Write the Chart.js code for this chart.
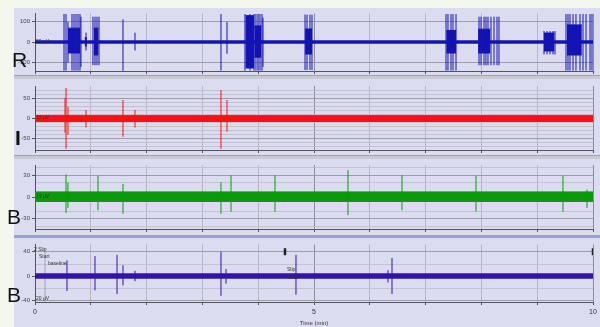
<!DOCTYPE html>
<html>
<head>
<meta charset="utf-8">
<script src="https://cdn.jsdelivr.net/npm/chart.js@4.4.0/dist/chart.umd.min.js"></script>
<style>
  html, body { margin: 0; padding: 0; background: #f3f7ee; }
  #page { position: relative; width: 600px; height: 327px; overflow: hidden; background: #f3f7ee; }
  #sheet { position: absolute; left: 14px; top: 8px; width: 586px; height: 319px; background: #dcdcf0; }
  canvas { position: absolute; left: 0; }
  .sep { position: absolute; left: 14px; width: 586px; }
  .side { position: absolute; font-family: "Liberation Sans", Arial, sans-serif; font-size: 21px; line-height: 21px; color: #111; }
  .note { position: absolute; font-family: "Liberation Sans", Arial, sans-serif; font-size: 5px; line-height: 6px; color: #333; white-space: nowrap; }
</style>
</head>
<body>
<div id="page">
  <div id="sheet"></div>
  <div class="sep" style="top:75px;height:1px;background:#a2a2b2"></div>
  <div class="sep" style="top:76px;height:3px;background:#c9c9d4"></div>
  <div class="sep" style="top:155px;height:1px;background:#a2a2b2"></div>
  <div class="sep" style="top:156px;height:3px;background:#c9c9d4"></div>
  <div class="sep" style="top:235px;height:3px;background:#9c9ce2"></div>

  <canvas id="chR"></canvas>
  <canvas id="chI"></canvas>
  <canvas id="chB1"></canvas>
  <canvas id="chB2"></canvas>

  <div class="side" style="left:12px;top:49px">R</div>
  <div class="side" style="left:15px;top:127px;font-weight:700">I</div>
  <div class="side" style="left:7px;top:206px">B</div>
  <div class="side" style="left:7px;top:284px">B</div>

  <div class="note" style="left:36px;top:38px">50 µV</div>
  <div class="note" style="left:36px;top:114px">10 µV</div>
  <div class="note" style="left:36px;top:193px">10 µV</div>
  <div class="note" style="left:34px;top:246px">2 Slip</div>
  <div class="note" style="left:39px;top:253px">Start</div>
  <div class="note" style="left:48px;top:260px">baseline</div>
  <div class="note" style="left:36px;top:295px">20 µV</div>
  <div class="note" style="left:287px;top:266px">Slip</div>
  <div class="note" style="left:287px;top:274px">Start</div>
</div>

<script>
// ---- time axis (minutes) ----
const minuteGrid = [0, 1, 2, 3, 4, 5, 6, 7, 8, 9, 10];
const minuteLabels = [0, 5, 10];

// ---- channel R (blue) ----
const rRange = [-140, 140];
const rTickLabels = [-100, 0, 100];
const rGridLines = [-100, 0, 100];
const rNoise = 7;
// dense burst cores: [start, end, low, high]
const rCores = [
  [0.59, 0.81, -55, 69],
  [0.89, 0.93, -20, 22],
  [1.05, 1.14, -64, 69],
  [3.77, 3.93, -128, 130],
  [3.93, 4.06, -75, 80],
  [4.84, 4.97, -60, 65],
  [7.37, 7.55, -55, 58],
  [7.94, 8.16, -55, 64],
  [9.12, 9.31, -45, 45],
  [9.53, 9.80, -64, 85]
];
// single excursions: [time, low, high]
const rSpikes = [
  [0.52, -138, 138], [0.556, -138, 138], [0.591, -100, 100], [0.663, -138, 138], [0.699, -138, 138],
  [0.735, -138, 138], [0.771, -138, 138], [0.806, -138, 138], [0.824, -120, 125],
  [0.914, -40, 47],
  [1.039, -112, 125], [1.075, -112, 125], [1.111, -112, 125], [1.147, -112, 125],
  [1.577, -139, 112],
  [1.792, -40, 47],
  [3.333, -138, 138], [3.441, -56, 99],
  [3.763, -138, 138], [3.853, -138, 138], [3.925, -138, 138], [3.96, -138, 138],
  [3.996, -138, 138], [4.032, -138, 138], [4.068, -138, 138], [4.086, -120, 120],
  [4.839, -135, 135], [4.875, -135, 135], [4.928, -135, 135], [4.964, -135, 135],
  [7.366, -138, 138], [7.401, -138, 138], [7.455, -138, 138], [7.491, -138, 138], [7.545, -138, 138],
  [7.957, -112, 125], [7.993, -112, 125], [8.047, -112, 125], [8.082, -112, 125], [8.118, -112, 125],
  [8.172, -112, 125], [8.226, -112, 125], [8.28, -112, 125], [8.315, -112, 125],
  [9.122, -59, 55], [9.176, -59, 55], [9.229, -59, 55], [9.283, -59, 55], [9.319, -59, 55],
  [9.516, -138, 138], [9.552, -138, 138], [9.588, -138, 138], [9.642, -138, 138], [9.695, -138, 138],
  [9.767, -138, 138], [9.821, -138, 138], [9.875, -138, 138], [9.946, -138, 138], [9.982, -138, 138]
];

// ---- channel I (red) ----
const iRange = [-78, 82];
const iTickLabels = [-50, 0, 50];
const iGridLines = [-70, -60, -50, -40, -30, -20, -10, 0, 10, 20, 30, 40, 50, 60, 70];
const iNoise = 8;
const iCores = [];
const iSpikes = [
  [0.538, -35, 52], [0.556, -75, 77], [0.591, -40, 30],
  [0.914, -22, 22],
  [1.577, -45, 47],
  [1.792, -22, 22],
  [3.333, -75, 72], [3.441, -32, 47]
];

// ---- channel B, upper (green) ----
const b1Range = [-44, 44];
const b1TickLabels = [-30, 0, 30];
const b1GridLines = [-40, -30, -20, 0, 20, 30, 40];
const b1Noise = 7;
const b1Cores = [];
const b1Spikes = [
  [0.556, -22, 31], [0.591, -15, 20],
  [1.129, -18, 29],
  [1.577, -23, 18],
  [3.333, -23, 20], [3.513, -20, 30],
  [4.301, -20, 30],
  [5.609, -25, 37],
  [6.577, -18, 30],
  [7.903, -20, 29],
  [9.462, -20, 29],
  [9.892, -15, 10]
];

// ---- channel B, lower (purple) ----
const b2Range = [-42, 52];
const b2TickLabels = [-40, 0, 40];
const b2GridLines = [-40, -20, 0, 20, 40];
const b2Noise = 4;
const b2Cores = [];
const b2Spikes = [
  [0.573, -24, 26],
  [1.075, -23, 33],
  [1.47, -29, 35],
  [1.577, -15, 18],
  [1.792, -8, 9],
  [3.333, -32, 40], [3.423, -12, 12],
  [4.677, -30, 35],
  [6.326, -10, 10], [6.398, -29, 30]
];
const b2CommentTimes = [0.18];
const b2EventMarks = [4.48, 10];

// ---- drawing ----
Chart.defaults.font.family = '"Liberation Sans", Arial, sans-serif';

const panels = [
  { id: 'chR',  color: '#1414b4', range: rRange,  labels: rTickLabels,  grid: rGridLines,  noise: rNoise,  cores: rCores,  spikes: rSpikes },
  { id: 'chI',  color: '#ff1010', range: iRange,  labels: iTickLabels,  grid: iGridLines,  noise: iNoise,  cores: iCores,  spikes: iSpikes },
  { id: 'chB1', color: '#0c9a0c', range: b1Range, labels: b1TickLabels, grid: b1GridLines, noise: b1Noise, cores: b1Cores, spikes: b1Spikes },
  { id: 'chB2', color: '#3414a8', range: b2Range, labels: b2TickLabels, grid: b2GridLines, noise: b2Noise, cores: b2Cores, spikes: b2Spikes,
    comments: b2CommentTimes, marks: b2EventMarks }
];

const frames = {
  chR:  { top: 8,   height: 70, padTop: 4, padBottom: 3, axisH: 4,  showTime: false },
  chI:  { top: 80,  height: 76, padTop: 6, padBottom: 2, axisH: 4,  showTime: false },
  chB1: { top: 158, height: 78, padTop: 7, padBottom: 3, axisH: 4,  showTime: false },
  chB2: { top: 238, height: 89, padTop: 2, padBottom: 0, axisH: 25, showTime: true }
};

// each [time, low, high] becomes one vertical stroke, separated by gaps
function strokes(list) {
  const pts = [];
  list.forEach(([t, lo, hi]) => { pts.push({ x: t, y: lo }, { x: t, y: hi }, { x: t, y: null }); });
  return pts;
}

panels.forEach(p => {
  const f = frames[p.id];
  const cv = document.getElementById(p.id);
  cv.width = 600; cv.height = f.height;
  cv.style.top = f.top + 'px';

  const datasets = [];
  if (p.marks) {
    datasets.push({
      data: p.marks.map(t => ({ x: t, y: 40 })), showLine: false,
      pointStyle: 'line', rotation: 90, pointRadius: 3.5, pointBorderWidth: 2.5,
      pointBorderColor: '#222', pointBackgroundColor: '#222'
    });
  }
  datasets.push({
    data: strokes(p.spikes), borderColor: p.color, borderWidth: 1,
    pointRadius: 0, spanGaps: false, fill: false
  });
  p.cores.forEach(([t0, t1, lo, hi]) => {
    datasets.push({
      data: [{ x: t0, y: hi }, { x: t1, y: hi }], borderColor: p.color, borderWidth: 1,
      backgroundColor: p.color, pointRadius: 0, fill: { value: lo }
    });
  });
  datasets.push({
    data: [{ x: 0, y: p.noise }, { x: 10, y: p.noise }], borderColor: p.color, borderWidth: 1,
    backgroundColor: p.color, pointRadius: 0, fill: { value: -p.noise }
  });
  if (p.comments) {
    datasets.push({
      data: strokes(p.comments.map(t => [t, p.range[0], 40])), borderColor: '#a4a4b4', borderWidth: 1,
      pointRadius: 0, spanGaps: false, fill: false
    });
  }

  new Chart(cv, {
    type: 'line',
    data: { datasets },
    options: {
      responsive: false, animation: false, devicePixelRatio: 1,
      layout: { padding: { top: f.padTop, bottom: f.padBottom, left: 0, right: 7 } },
      plugins: { legend: { display: false }, tooltip: { enabled: false } },
      scales: {
        x: {
          type: 'linear', min: 0, max: 10,
          afterBuildTicks: s => { s.ticks = minuteGrid.map(v => ({ value: v })); },
          afterFit: s => { s.height = f.axisH; },
          ticks: {
            display: f.showTime, autoSkip: false, maxRotation: 0, padding: 3,
            font: { size: 7 }, color: '#333',
            callback: v => minuteLabels.includes(v) ? String(v) : ''
          },
          grid: {
            color: c => (c.tick && c.tick.value % 5 === 0) ? '#8c8c9c' : '#b6b6c6',
            tickColor: '#555', tickLength: 3
          },
          border: { display: true, color: '#555', width: 1 },
          title: { display: f.showTime, text: 'Time (min)', font: { size: 6 }, color: '#333', padding: 0 }
        },
        y: {
          min: p.range[0], max: p.range[1],
          afterBuildTicks: s => { s.ticks = p.grid.map(v => ({ value: v })); },
          afterFit: s => { s.width = 35; },
          ticks: {
            autoSkip: false, padding: 2, font: { size: 6 }, color: '#444',
            callback: v => p.labels.includes(v) ? String(v) : ''
          },
          grid: {
            color: c => (c.tick && p.labels.includes(c.tick.value)) ? '#9c9cac' : '#c2c2d2',
            tickColor: c => (c.tick && p.labels.includes(c.tick.value)) ? '#555' : 'rgba(0,0,0,0)',
            tickLength: 3
          },
          border: { display: true, color: '#555', width: 1 }
        }
      }
    }
  });
});
</script>
</body>
</html>
